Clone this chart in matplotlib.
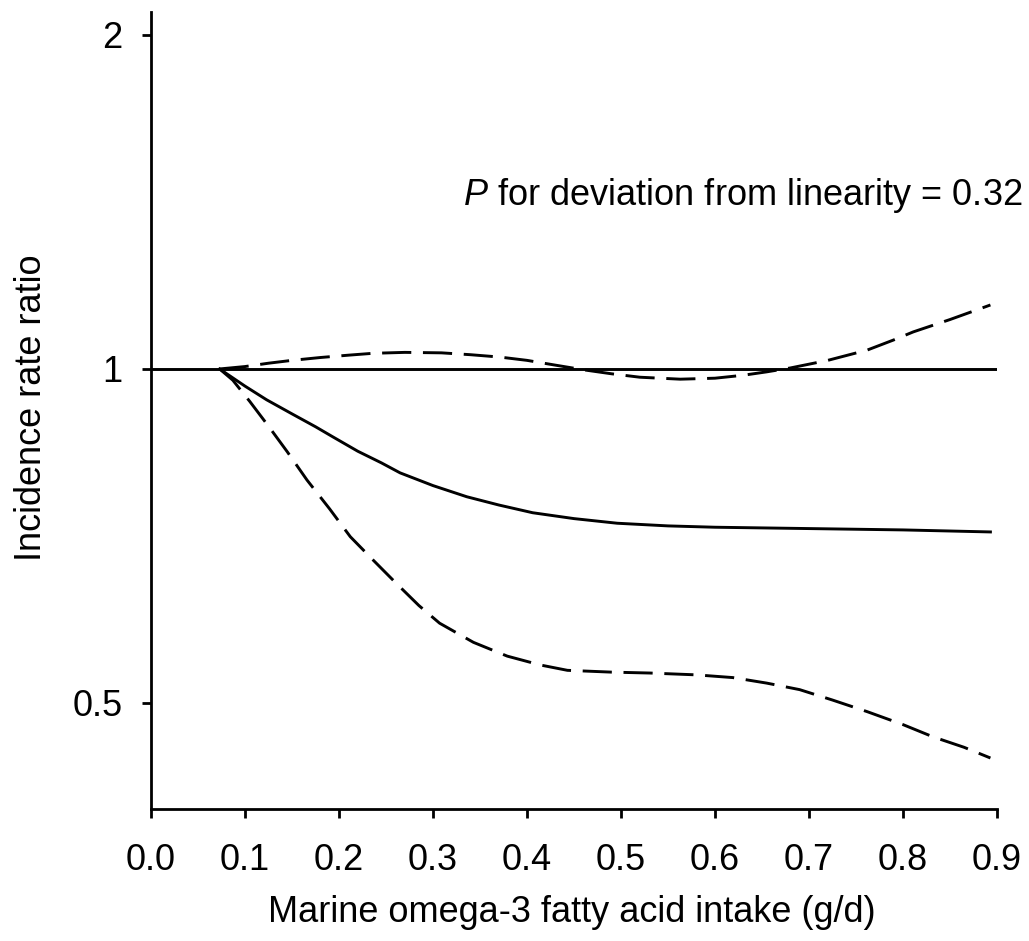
import matplotlib
matplotlib.use("Agg")
import matplotlib.pyplot as plt

plt.rcParams['font.family'] = ['Liberation Sans', 'DejaVu Sans']
plt.rcParams['mathtext.fontset'] = 'custom'
plt.rcParams['mathtext.it'] = 'Liberation Sans:italic'
plt.rcParams['mathtext.rm'] = 'Liberation Sans'

# Central estimate (solid)
x_mid = [0.073, 0.100, 0.123, 0.150, 0.175, 0.194, 0.220, 0.245, 0.265, 0.300, 0.336, 0.370,
         0.406, 0.450, 0.496, 0.550, 0.600, 0.700, 0.800, 0.893]
y_mid = [1.000, 0.965, 0.938, 0.911, 0.887, 0.868, 0.843, 0.823, 0.806, 0.785, 0.767, 0.754,
         0.742, 0.733, 0.726, 0.722, 0.720, 0.718, 0.716, 0.713]

# Upper confidence limit (dashed)
x_up = [0.073, 0.100, 0.125, 0.150, 0.180, 0.210, 0.236, 0.270, 0.309, 0.340, 0.371, 0.400,
        0.430, 0.461, 0.490, 0.520, 0.563, 0.600, 0.630, 0.655, 0.680, 0.720, 0.762, 0.790,
        0.811, 0.850, 0.893]
y_up = [1.000, 1.005, 1.012, 1.018, 1.024, 1.029, 1.033, 1.035, 1.034, 1.030, 1.025, 1.018,
        1.008, 0.998, 0.990, 0.983, 0.979, 0.981, 0.987, 0.994, 1.002, 1.018, 1.040, 1.062,
        1.080, 1.108, 1.142]

# Lower confidence limit (dashed)
x_lo = [0.073, 0.087, 0.105, 0.125, 0.145, 0.166, 0.190, 0.212, 0.236, 0.260, 0.285, 0.307,
        0.343, 0.379, 0.414, 0.443, 0.490, 0.531, 0.580, 0.619, 0.655, 0.690, 0.725, 0.762,
        0.800, 0.832, 0.865, 0.893]
y_lo = [1.000, 0.977, 0.935, 0.888, 0.842, 0.794, 0.748, 0.706, 0.673, 0.642, 0.612, 0.590,
        0.567, 0.551, 0.541, 0.535, 0.533, 0.532, 0.530, 0.527, 0.521, 0.514, 0.503, 0.491,
        0.478, 0.466, 0.456, 0.446]

x_ticks = [0.0, 0.1, 0.2, 0.3, 0.4, 0.5, 0.6, 0.7, 0.8, 0.9]
x_ticklabels = ["0.0", "0.1", "0.2", "0.3", "0.4", "0.5", "0.6", "0.7", "0.8", "0.9"]
y_ticks = [0.5, 1, 2]
y_ticklabels = ["0.5", "1", "2"]

FS = 26

fig = plt.figure(figsize=(10.29, 9.41), dpi=100)
ax = fig.add_axes([151/1029, 1-809/941, (997-151)/1029, (809-12)/941])

ax.set_yscale('log', base=2)
ax.set_xlim(0, 0.9)
ax.set_ylim(0.4012, 2.0977)

lw = 2.1
ax.axhline(1.0, color='black', lw=lw)
ax.plot(x_mid, y_mid, color='black', lw=lw, solid_joinstyle='round')
ax.plot(x_up, y_up, color='black', lw=lw, dashes=(10, 4))
ax.plot(x_lo, y_lo, color='black', lw=lw, dashes=(10, 4))

ax.set_xticks(x_ticks)
ax.set_xticklabels(x_ticklabels)
ax.set_yticks(y_ticks)
ax.set_yticklabels(y_ticklabels)
ax.yaxis.set_minor_locator(matplotlib.ticker.NullLocator())

for s in ['top', 'right']:
    ax.spines[s].set_visible(False)
for s in ['left', 'bottom']:
    ax.spines[s].set_linewidth(2)
ax.tick_params(axis='both', direction='out', length=6.5, width=2, labelsize=FS, colors='black')
ax.tick_params(axis='x', pad=18)
ax.tick_params(axis='y', pad=14)

fig.text(32/1029, 1-408/941, "Incidence rate ratio", rotation=90, ha='center', va='center', fontsize=FS)
fig.text(572/1029, 1-912/941, "Marine omega-3 fatty acid intake (g/d)", ha='center', va='center', fontsize=FS)
fig.text(1022/1029, 1-205/941, r"$\it{P}$ for deviation from linearity = 0.32", ha='right', va='baseline', fontsize=FS)

fig.savefig("out.png", dpi=100, facecolor='white')
